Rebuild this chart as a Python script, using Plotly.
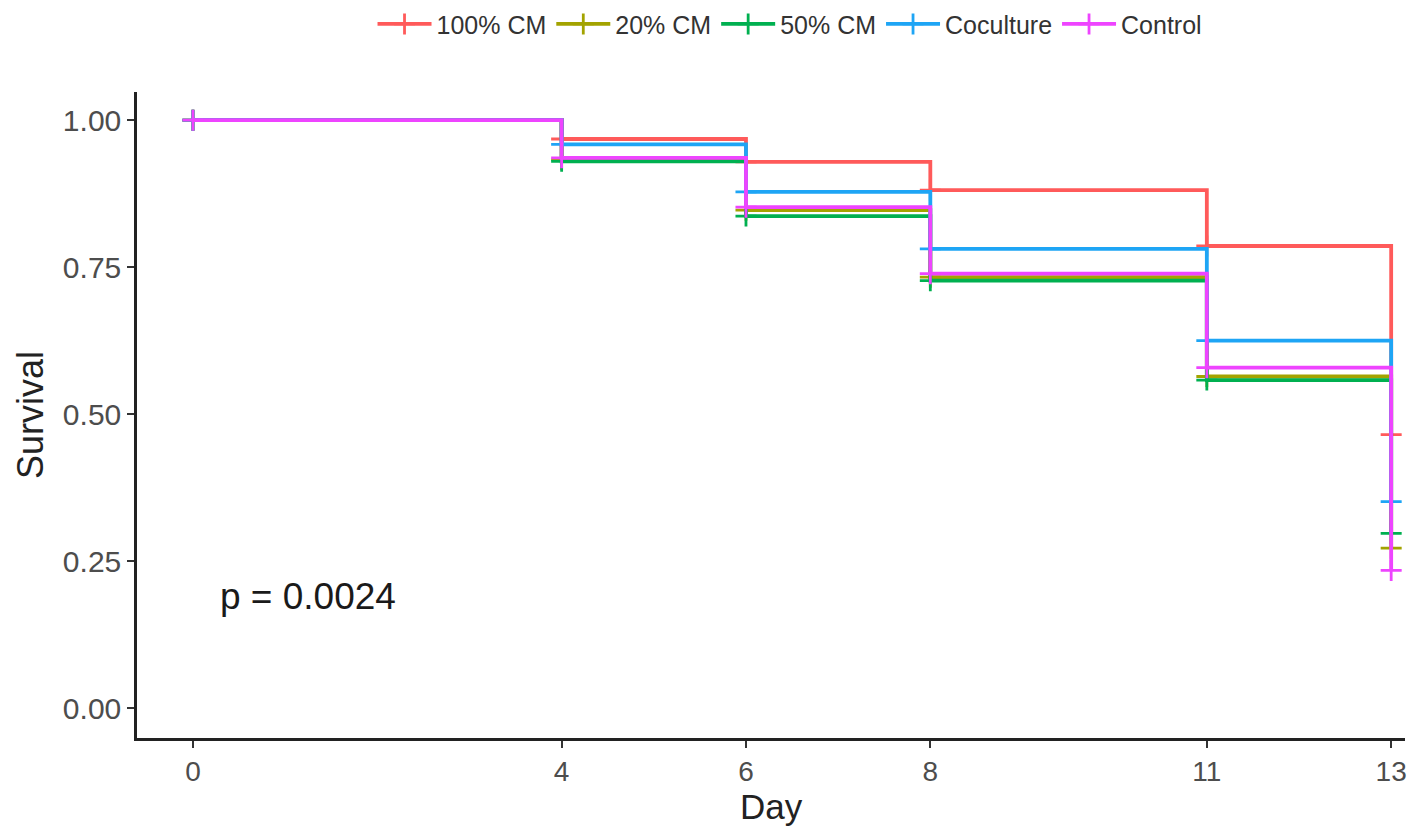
import plotly.graph_objects as go

days = [0, 4, 6, 8, 11, 13]
groups = ["100% CM", "20% CM", "50% CM", "Coculture", "Control"]
surv_100cm = [1.00, 0.968, 0.929, 0.881, 0.786, 0.465]
surv_20cm = [1.00, 0.933, 0.847, 0.733, 0.564, 0.272]
surv_50cm = [1.00, 0.930, 0.837, 0.727, 0.558, 0.297]
surv_coculture = [1.00, 0.959, 0.878, 0.781, 0.625, 0.351]
surv_control = [1.00, 0.936, 0.852, 0.739, 0.579, 0.234]
series = [surv_100cm, surv_20cm, surv_50cm, surv_coculture, surv_control]
colors = ["#FF5A5A", "#A3A300", "#00B050", "#1EA5F5", "#EE44FF"]
p_text = "p = 0.0024"
y_ticks = [0, 0.25, 0.5, 0.75, 1.0]
y_ticktext = ["0.00", "0.25", "0.50", "0.75", "1.00"]

FONT = "Liberation Sans, Arial, sans-serif"

fig = go.Figure()
for name, vals, col in zip(groups, series, colors):
    fig.add_trace(go.Scatter(
        x=days, y=vals, name=name, mode="lines+markers",
        line=dict(shape="hv", color=col, width=3.8),
        marker=dict(symbol="cross-thin", size=15, line=dict(color=col, width=2.8), color=col),
    ))

fig.add_annotation(x=0.27, y=0.19, xref="x", yref="y", text=p_text, showarrow=False,
                   xanchor="left", yanchor="middle",
                   font=dict(size=37, color="#1a1a1a", family=FONT))
# axis titles
fig.add_annotation(x=0, y=0.5, xref="paper", yref="paper", text="Survival", showarrow=False,
                   textangle=-90, xanchor="center", yanchor="middle", xshift=-107,
                   font=dict(size=36, color="#222222", family=FONT))
fig.add_annotation(x=0.5, y=0, xref="paper", yref="paper", text="Day", showarrow=False,
                   xanchor="center", yanchor="middle", yshift=-68,
                   font=dict(size=35, color="#222222", family=FONT))

fig.update_layout(
    width=1416, height=828,
    margin=dict(l=129, r=19, t=84, b=98, autoexpand=False),
    paper_bgcolor="white", plot_bgcolor="white",
    font=dict(family=FONT, color="#333333"),
    legend=dict(orientation="h", x=0.515, xanchor="center", y=1.105, yanchor="middle",
                font=dict(size=25, color="#333333"), itemwidth=54, traceorder="normal"),
    showlegend=True,
)
fig.update_xaxes(
    range=[-0.607, 13.15], tickvals=days, ticktext=[str(d) for d in days],
    showline=True, linecolor="#222222", linewidth=2.5, showgrid=False, zeroline=False,
    ticks="outside", ticklen=7, tickwidth=1.5, tickcolor="#333333",
    tickfont=dict(size=28, color="#4D4D4D"), automargin=False,
)
fig.update_yaxes(
    range=[-0.051, 1.048], tickvals=y_ticks, ticktext=y_ticktext,
    showline=True, linecolor="#222222", linewidth=2.5, showgrid=False, zeroline=False,
    ticks="outside", ticklen=7, tickwidth=1.5, tickcolor="#333333",
    tickfont=dict(size=30, color="#4D4D4D"), automargin=False,
)
fig.write_html("out.html")
